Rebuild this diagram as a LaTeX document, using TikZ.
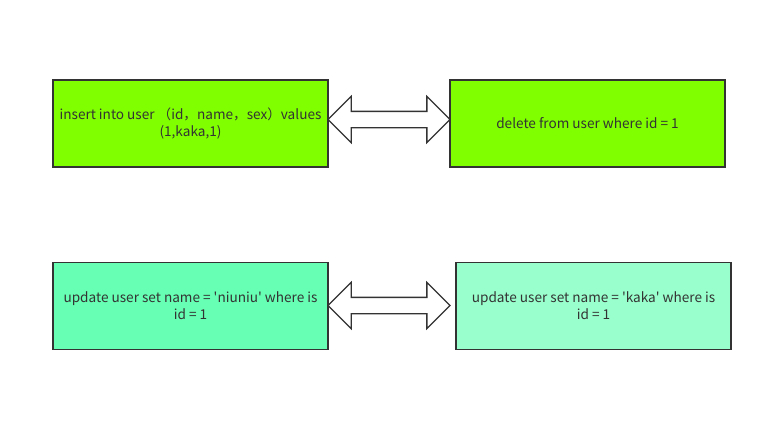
\documentclass[tikz,border=0pt]{standalone}
\usepackage{fontspec}
\setmainfont{Noto Sans CJK SC}[Ligatures=TeXOff]
\usetikzlibrary{shapes.arrows}
\definecolor{limebox}{HTML}{80FF00}
\definecolor{mintbox}{HTML}{66FFB3}
\definecolor{palebox}{HTML}{99FFCC}
\definecolor{edgegray}{HTML}{333333}
\begin{document}
\begin{tikzpicture}[
        x=1pt, y=-1pt,
        sqlbox/.style={draw=edgegray, line width=1.3pt, rectangle, minimum width=275pt, minimum height=87pt,
            align=center, text=edgegray, font=\fontsize{13.6}{17}\selectfont},
        dblarrow/.style={draw=edgegray, line width=1.3pt, fill=white, shape=double arrow, inner xsep=0pt,
            inner ysep=7.5pt, minimum height=122pt, double arrow head extend=15pt},
    ]
    \useasboundingbox (0,0) rectangle (771,428);
    \node[sqlbox, fill=limebox](ins) at (190.5,123.5){insert into user （id，name，sex）values\\(1,kaka,1)};
    \node[sqlbox, fill=limebox](del) at (587.5,123.5){delete from user where id = 1};
    \node[sqlbox, fill=mintbox](upd1) at (190.5,306){update user set name = 'niuniu' where is\\id = 1};
    \node[sqlbox, fill=palebox](upd2) at (593.5,306){update user set name = 'kaka' where is\\id = 1};

    \node[dblarrow](a1) at (389,119.5){};
    \node[dblarrow](a2) at (389,305.5){};
\end{tikzpicture}
\end{document}
